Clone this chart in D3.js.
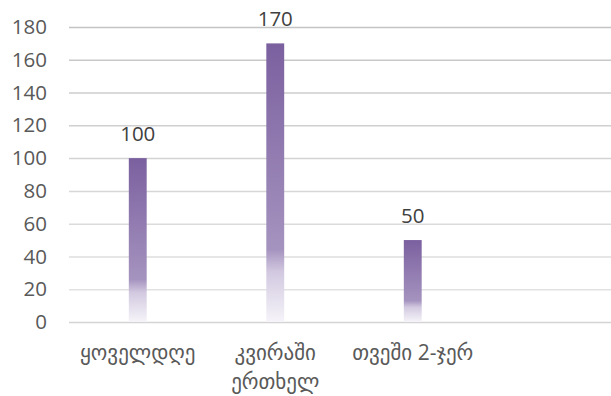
<!DOCTYPE html>
<html>
<head>
<meta charset="utf-8">
<script src="https://cdn.jsdelivr.net/npm/d3@7"></script>
<style>
  html, body { margin: 0; padding: 0; background: #fff; }
  svg { display: block; }
</style>
</head>
<body>
<svg id="chart" width="611" height="396"></svg>
<script>
const categories = ["ყოველდღე", "კვირაში ერთხელ", "თვეში 2-ჯერ", ""];
const values = [100, 170, 50, null];
const yTicks = [0, 20, 40, 60, 80, 100, 120, 140, 160, 180];

const W = 611, H = 396;
const svg = d3.select("#chart");
const font = "'Open Sans', 'DejaVu Sans', sans-serif";

const x = d3.scaleBand()
  .domain(d3.range(categories.length))
  .range([69, 619])
  .paddingInner(0.87)
  .paddingOuter(0.435);

const y = d3.scaleLinear().domain([0, 180]).range([322, 27]);

// gradient for bars
const defs = svg.append("defs");
const grad = defs.append("linearGradient")
  .attr("id", "barGrad")
  .attr("x1", 0).attr("y1", 0).attr("x2", 0).attr("y2", 1);
grad.append("stop").attr("offset", "0%").attr("stop-color", "#7b609f");
grad.append("stop").attr("offset", "74%").attr("stop-color", "#a593bf");
grad.append("stop").attr("offset", "82%").attr("stop-color", "#d2c9e0");
grad.append("stop").attr("offset", "100%").attr("stop-color", "#f6f4f9");

// gridlines
const gridColor = d3.scaleLinear().domain([0, 180]).range(["#e6e6e6", "#c4c4c4"]);
svg.append("g").selectAll("line")
  .data(yTicks)
  .join("line")
  .attr("x1", 69).attr("x2", W)
  .attr("y1", d => y(d) + 0.5).attr("y2", d => y(d) + 0.5)
  .attr("stroke", d => d === 0 ? "#d4d4d4" : gridColor(d))
  .attr("stroke-width", 1.5);

// y axis labels
const yAxis = d3.axisLeft(y).tickValues(yTicks).tickSize(0).tickPadding(0);
const ya = svg.append("g").attr("transform", "translate(47,0)").call(yAxis);
ya.select(".domain").remove();
ya.selectAll("text")
  .attr("font-family", font)
  .attr("font-size", 20.5)
  .attr("fill", "#595959");

// bars
const data = values.map((v, i) => ({ v, i })).filter(d => d.v != null);
svg.append("g").selectAll("rect")
  .data(data)
  .join("rect")
  .attr("x", d => x(d.i))
  .attr("width", x.bandwidth())
  .attr("y", d => y(d.v))
  .attr("height", d => y(0) - y(d.v))
  .attr("fill", "url(#barGrad)");

// data labels
svg.append("g").selectAll("text")
  .data(data)
  .join("text")
  .attr("x", d => x(d.i) + x.bandwidth() / 2)
  .attr("y", d => y(d.v) - 17)
  .attr("text-anchor", "middle")
  .attr("font-family", font)
  .attr("font-size", 20.5)
  .attr("fill", "#404040")
  .text(d => d.v);

// category labels with wrapping
const catG = svg.append("g");
categories.forEach((c, i) => {
  if (!c) return;
  const t = catG.append("text")
    .attr("x", x(i) + x.bandwidth() / 2)
    .attr("y", 360)
    .attr("text-anchor", "middle")
    .attr("font-family", font)
    .attr("font-size", 21)
    .attr("fill", "#595959")
    .text(c);
  const limit = x.step();
  if (t.node().getComputedTextLength() > limit && c.includes(" ")) {
    const words = c.split(" ");
    t.text(null);
    words.forEach((w, k) => {
      t.append("tspan")
        .attr("x", x(i) + x.bandwidth() / 2)
        .attr("dy", k === 0 ? 0 : 29)
        .text(w);
    });
  }
});
</script>
</body>
</html>
